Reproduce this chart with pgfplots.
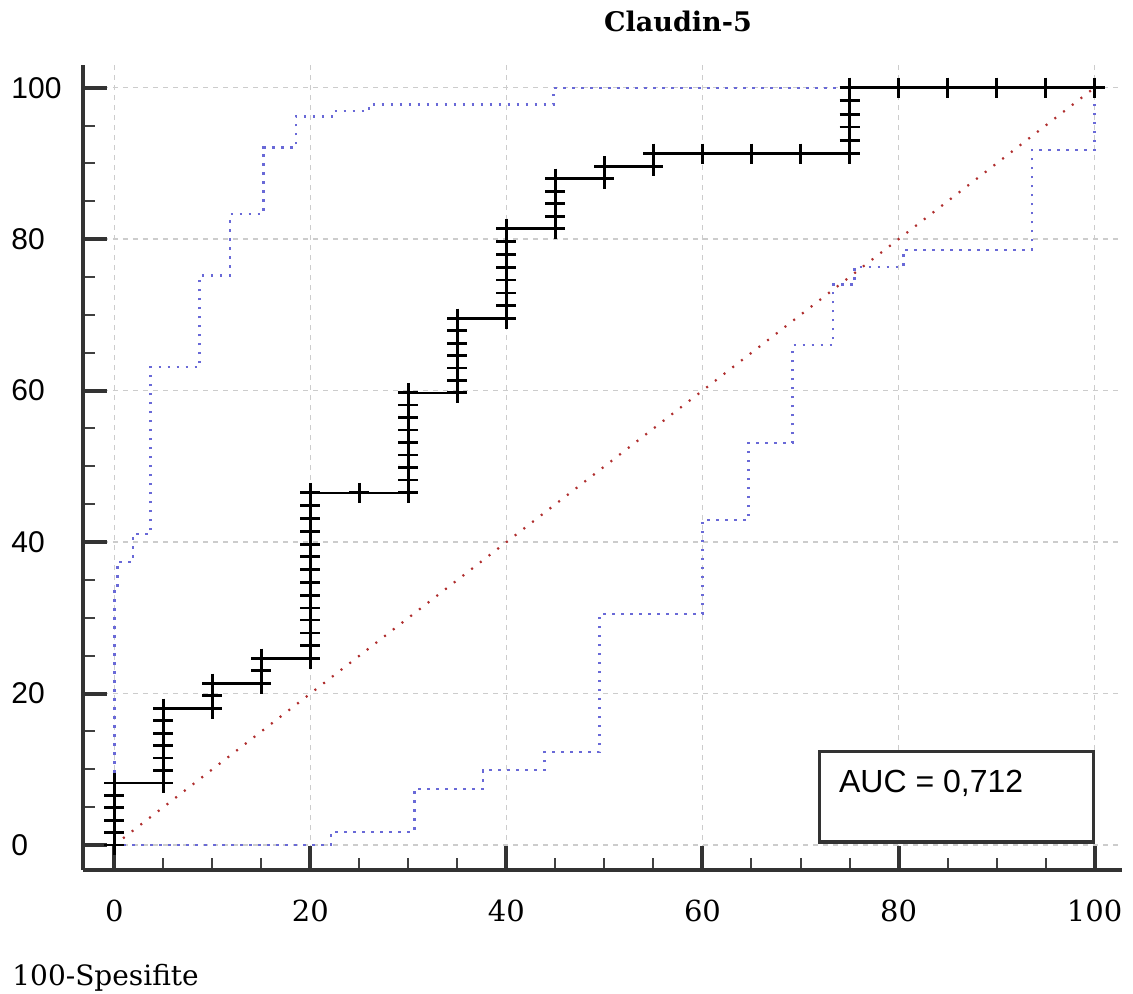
\documentclass[border=0pt]{standalone}
\usepackage{fontspec}
\setmainfont{Liberation Sans}
\newfontfamily\dserif{DejaVu Serif}
\usepackage{pgfplots}
\usepackage{pgfplotstable}
\pgfplotsset{compat=1.18}
\definecolor{bandblue}{RGB}{105,105,215}
\definecolor{diagred}{RGB}{175,45,45}

\pgfplotstableread{
x y
0 0
0 1.64
0 3.28
0 4.92
0 6.56
0 8.2
5 8.2
5 9.84
5 11.48
5 13.12
5 14.76
5 16.4
5 18.0
10 18.0
10 19.7
10 21.3
15 21.3
15 23.0
15 24.6
20 24.6
20 26.3
20 28.0
20 29.7
20 31.3
20 33.0
20 34.7
20 36.4
20 38.1
20 39.7
20 41.4
20 43.1
20 44.8
20 46.5
25 46.5
30 46.5
30 48.2
30 49.8
30 51.5
30 53.1
30 54.8
30 56.4
30 58.1
30 59.7
35 59.7
35 61.3
35 63.0
35 64.6
35 66.2
35 67.9
35 69.5
40 69.5
40 71.2
40 72.9
40 74.6
40 76.3
40 78.0
40 79.7
40 81.4
45 81.4
45 83.0
45 84.7
45 86.3
45 88.0
50 88.0
50 89.6
55 89.6
55 91.3
60 91.3
65 91.3
70 91.3
75 91.3
75 93.0
75 94.8
75 96.5
75 98.3
75 100
80 100
85 100
90 100
95 100
100 100
}\roctab

\pgfplotstableread{
x y
0 0
0 33.7
0.3 33.7
0.3 37.4
1.9 37.4
1.9 41.1
3.7 41.1
3.7 63.1
8.7 63.1
8.7 75.2
11.8 75.2
11.8 83.3
15.2 83.3
15.2 92.1
18.5 92.1
18.5 96.2
22.4 96.2
22.4 96.9
26.0 96.9
26.0 97.8
44.8 97.8
44.8 100
100 100
}\upperband

\pgfplotstableread{
x y
0 0
22.1 0
22.1 1.7
30.6 1.7
30.6 7.4
37.6 7.4
37.6 9.9
43.9 9.9
43.9 12.3
49.5 12.3
49.5 30.5
60.0 30.5
60.0 42.9
64.7 42.9
64.7 53.1
69.2 53.1
69.2 66.0
73.3 66.0
73.3 74.0
75.5 74.0
75.5 76.3
80.5 76.3
80.5 78.6
93.6 78.6
93.6 91.8
100 91.8
100 100
}\lowerband

\begin{document}
\begin{tikzpicture}
\useasboundingbox (-41.5pt,-62pt) rectangle (525pt,435pt);
\begin{axis}[
 at={(0pt,0pt)}, anchor=south west,
 scale only axis, width=519.5pt, height=402.5pt,
 xmin=-3.2, xmax=102.8, ymin=-3.3, ymax=103.0,
 axis x line*=bottom, axis y line*=left,
 axis line style={line width=2pt, black!80},
 xtick={0,20,...,100}, ytick={0,20,...,100},
 minor x tick num=3, minor y tick num=3,
 tick align=inside,
 major tick length=12pt, minor tick length=6pt,
 major tick style={line width=2pt, black!80},
 minor tick style={line width=1pt, black!75},
 grid=major,
 major grid style={gray!40, dash pattern=on 2.5pt off 2.5pt, line width=0.7pt},
 /pgf/number format/assume math mode=true,
 xticklabel style={font=\dserif\fontsize{14.5}{14.5}\selectfont, anchor=north, inner sep=0pt, yshift=-15pt},
 yticklabel style={font=\fontsize{15}{15}\selectfont, anchor=west, inner sep=0pt, xshift=-36pt},
 clip=false,
]
\addplot[bandblue, line width=1.2pt, dash pattern=on 1.3pt off 3.2pt] table[x=x,y=y] {\upperband};
\addplot[bandblue, line width=1.2pt, dash pattern=on 1.3pt off 3.2pt] table[x=x,y=y] {\lowerband};
\addplot[diagred, line width=1.1pt, dash pattern=on 1pt off 4.5pt] coordinates {(0,0) (100,100)};
\addplot[black, line width=1.3pt, mark=+, mark size=5pt, mark options={line width=1.4pt, solid}] table[x=x,y=y] {\roctab};
\draw[line width=1.6pt, black!80, fill=white] (axis cs:71.9,0.4) rectangle (axis cs:99.9,12.3);
\node[anchor=west, font=\fontsize{16}{16}\selectfont, inner sep=0pt] at (axis cs:73.9,8.2) {AUC = 0,712};
\end{axis}
\node[anchor=base, font=\dserif\bfseries\fontsize{13.5}{13.5}\selectfont] at (297.5pt,419pt) {Claudin-5};
\node[anchor=base west, inner sep=0pt, font=\dserif\fontsize{14}{14}\selectfont] at (-35.5pt,-57.5pt) {100-Spesifite};
\end{tikzpicture}
\end{document}
